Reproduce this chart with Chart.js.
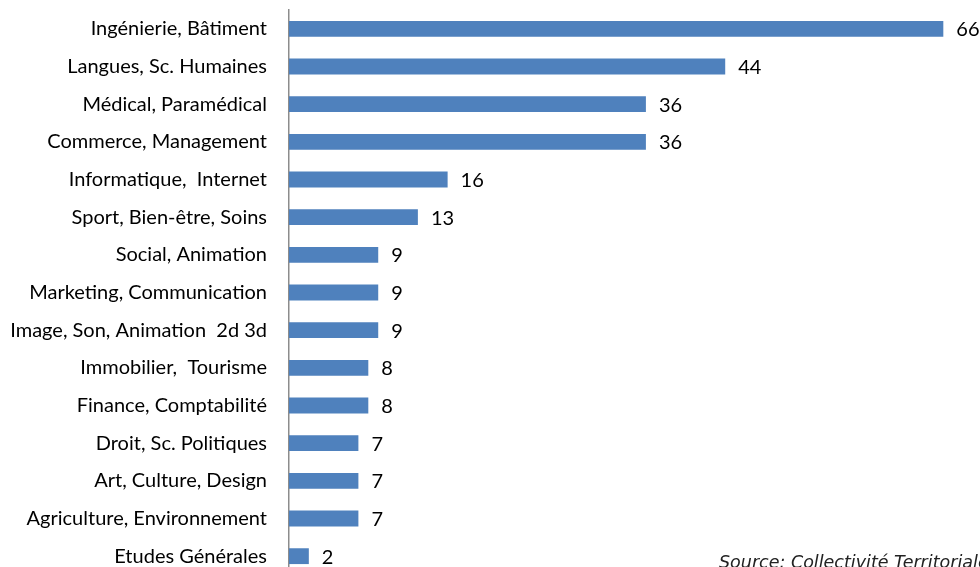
<!DOCTYPE html>
<html>
<head>
<meta charset="utf-8">
<script src="https://cdn.jsdelivr.net/npm/chart.js"></script>
<style>
  html, body { margin: 0; padding: 0; background: #fff; overflow: hidden; }
  #wrap { position: relative; width: 980px; height: 567px; overflow: hidden; }
  #chart { position: absolute; left: 0; top: 0; }
  #source {
    position: absolute; left: 719px; top: 552px; white-space: nowrap;
    font: italic 17.5px "DejaVu Sans", sans-serif; color: #222;
  }
</style>
</head>
<body>
<div id="wrap">
  <canvas id="chart" width="980" height="582"></canvas>
  <div id="source">Source: Collectivité Territoriale</div>
</div>
<script>
const categories = [
  'Ingénierie, Bâtiment',
  'Langues, Sc. Humaines',
  'Médical, Paramédical',
  'Commerce, Management',
  'Informatique,  Internet',
  'Sport, Bien-être, Soins',
  'Social, Animation',
  'Marketing, Communication',
  'Image, Son, Animation  2d 3d',
  'Immobilier,  Tourisme',
  'Finance, Comptabilité',
  'Droit, Sc. Politiques',
  'Art, Culture, Design',
  'Agriculture, Environnement',
  'Etudes Générales'
];
const counts = [66, 44, 36, 36, 16, 13, 9, 9, 9, 8, 8, 7, 7, 7, 2];

const barBlue = '#4f81bd';
const labelFont = 'Lato, sans-serif';

// write each count just past the end of its bar
const valueLabels = {
  id: 'valueLabels',
  afterDatasetsDraw(chart) {
    const ctx = chart.ctx;
    const meta = chart.getDatasetMeta(0);
    ctx.save();
    ctx.font = '20px ' + labelFont;
    ctx.fillStyle = '#000';
    ctx.textBaseline = 'middle';
    ctx.textAlign = 'left';
    meta.data.forEach((bar, i) => {
      ctx.fillText(String(counts[i]), bar.x + 13, bar.y + 1);
    });
    ctx.restore();
  }
};

new Chart(document.getElementById('chart'), {
  type: 'bar',
  data: {
    labels: categories,
    datasets: [{
      data: counts,
      backgroundColor: barBlue,
      borderWidth: 0,
      barPercentage: 0.84,
      categoryPercentage: 0.5
    }]
  },
  options: {
    indexAxis: 'y',
    responsive: false,
    animation: false,
    layout: { padding: { top: 10, right: 0, bottom: 7, left: 0 } },
    plugins: {
      legend: { display: false },
      tooltip: { enabled: false }
    },
    scales: {
      x: {
        display: false,
        min: 0,
        max: 69.7
      },
      y: {
        afterFit(scale) {
          scale.width = 289;
          scale.paddingTop = 0;
          scale.paddingBottom = 0;
        },
        grid: { display: false, drawTicks: false },
        border: { display: true, color: '#8c8c8c', width: 1.5 },
        ticks: {
          padding: 22,
          color: '#000',
          font: { family: labelFont, size: 20 }
        }
      }
    }
  },
  plugins: [valueLabels]
});
</script>
</body>
</html>
